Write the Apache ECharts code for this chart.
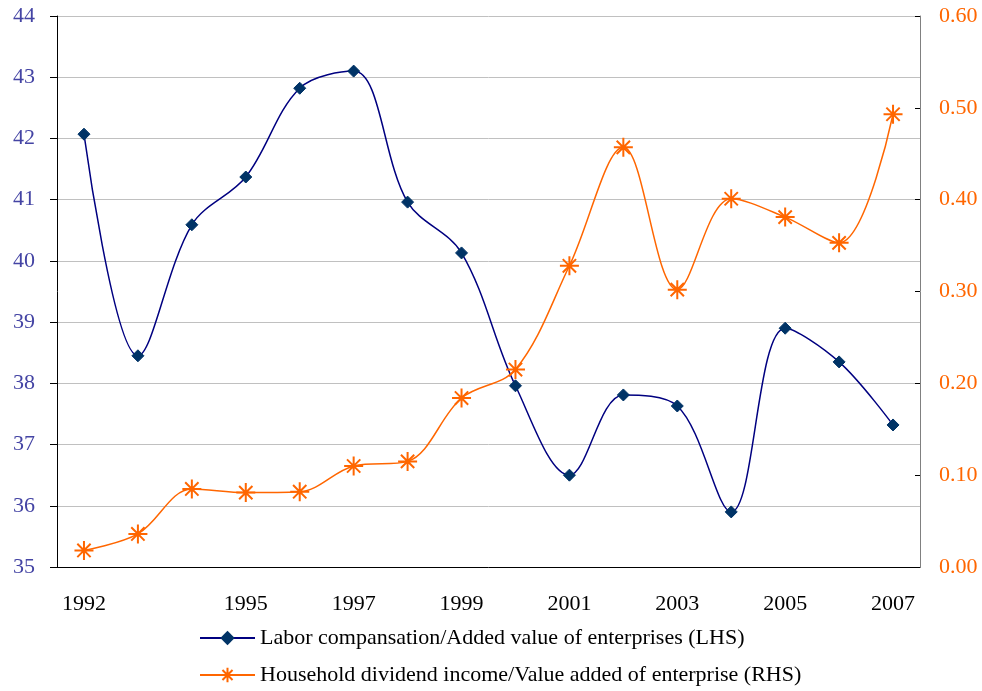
<!DOCTYPE html>
<html><head><meta charset="utf-8">
<script src="https://cdn.jsdelivr.net/npm/echarts@6/dist/echarts.min.js"></script>
<style>html,body{margin:0;padding:0;background:#fff}#c{width:982px;height:691px}</style>
</head><body><div id="c"></div>
<script>
const years = ['1992','1993','1994','1995','1996','1997','1998','1999','2000','2001','2002','2003','2004','2005','2006','2007'];
const yearLabels = ['1992','','','1995','','1997','','1999','','2001','','2003','','2005','','2007'];
const laborShare = [42.07,38.45,40.59,41.37,42.82,43.10,40.96,40.13,37.96,36.50,37.81,37.63,35.90,38.90,38.35,37.32];
const dividendShare = [0.018,0.036,0.085,0.081,0.082,0.110,0.115,0.184,0.215,0.328,0.457,0.302,0.401,0.381,0.353,0.493];
const labelLabor = 'Labor compansation/Added value of enterprises (LHS)';
const labelDiv = 'Household dividend income/Value added of enterprise (RHS)';

const serif = '"Liberation Serif","DejaVu Serif",serif';
const asterisk = 'path://M0,5L10,5M5,0L5,10M1.5,1.5L8.5,8.5M8.5,1.5L1.5,8.5';
const chart = echarts.init(document.getElementById('c'));
chart.setOption({
  animation:false,
  backgroundColor:'#fff',
  grid:{left:57,right:62,top:16,bottom:124,containLabel:false},
  legend:{
    orient:'vertical', left:199, top:627, padding:0, itemWidth:55, itemHeight:18, itemGap:15,
    textStyle:{fontFamily:serif,fontSize:22,color:'#000'},
    data:[labelLabor,labelDiv]
  },
  xAxis:{
    type:'category', data:years, boundaryGap:true,
    axisLine:{lineStyle:{color:'#000',width:1}},
    axisTick:{inside:true,length:8,lineStyle:{color:'#000'}},
    axisLabel:{interval:0,margin:26,fontFamily:serif,fontSize:22,color:'#000',
      formatter:(v,i)=>yearLabels[i]},
    splitLine:{show:false}
  },
  yAxis:[
    {type:'value',min:35,max:44,interval:1,position:'left',
     axisLine:{show:true,lineStyle:{color:'#000'}},
     axisTick:{show:true,inside:false,length:7,lineStyle:{color:'#000'}},
     axisLabel:{margin:22,fontFamily:serif,fontSize:22,color:'#4444a4'},
     splitLine:{show:true,lineStyle:{color:'#c0c0c0',width:1}}},
    {type:'value',min:0,max:0.6,interval:0.1,position:'right',
     axisLine:{show:true,lineStyle:{color:'#808080'}},
     axisTick:{show:true,inside:true,length:5,lineStyle:{color:'#000'}},
     axisLabel:{margin:19,fontFamily:serif,fontSize:22,color:'#ff6600',formatter:v=>v.toFixed(2)},
     splitLine:{show:false}}
  ],
  series:[
    {name:labelLabor,type:'line',yAxisIndex:0,data:laborShare,smooth:0.35,
     symbol:'diamond',symbolSize:12,
     lineStyle:{color:'#000080',width:1.5},
     itemStyle:{color:'#003366',borderColor:'#003366'}},
    {name:labelDiv,type:'line',yAxisIndex:1,data:dividendShare,smooth:0.35,
     symbol:asterisk,symbolSize:19,
     lineStyle:{color:'#ff6600',width:1.5},
     itemStyle:{color:'none',borderColor:'#ff6600',borderWidth:2}}
  ]
});
</script></body></html>
